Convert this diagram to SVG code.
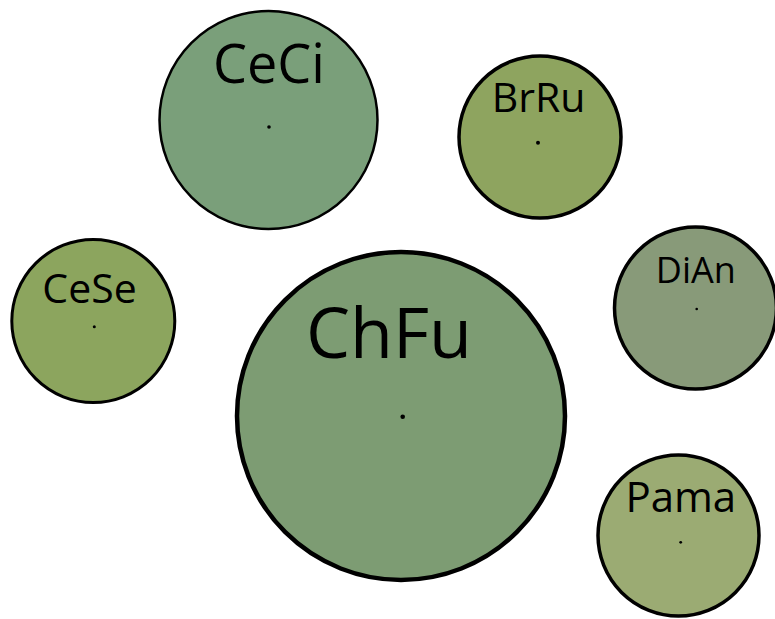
<svg xmlns="http://www.w3.org/2000/svg" width="775" height="619" viewBox="0 0 775 619">
<style>
.n{stroke:#000}
.lbl{font-family:"Open Sans","DejaVu Sans",sans-serif;fill:#000;text-anchor:middle}
.dot{fill:#000}
</style>
<rect width="775" height="619" fill="#fff"/>
<g id="connectors"></g>
<g id="CeCi">
<circle class="n" cx="268.5" cy="120" r="109" fill="#7a9f7a" stroke-width="2.5"/>
<text class="lbl" x="269" y="82.5" font-size="54">CeCi</text>
<circle class="dot" cx="269" cy="127" r="1.8"/>
</g>
<g id="BrRu">
<circle class="n" cx="540" cy="137" r="81" fill="#8ea45f" stroke-width="3.5"/>
<text class="lbl" x="538.5" y="112" font-size="41">BrRu</text>
<circle class="dot" cx="538" cy="142.7" r="2"/>
</g>
<g id="CeSe">
<circle class="n" cx="93.3" cy="321" r="81.5" fill="#8ca55e" stroke-width="3"/>
<text class="lbl" x="89.5" y="302.5" font-size="41">CeSe</text>
<circle class="dot" cx="94.3" cy="326.7" r="1.5"/>
</g>
<g id="DiAn">
<circle class="n" cx="695.5" cy="308" r="81" fill="#889a79" stroke-width="3.5"/>
<text class="lbl" x="695.8" y="283.3" font-size="36">DiAn</text>
<circle class="dot" cx="696.7" cy="309" r="1.3"/>
</g>
<g id="ChFu">
<circle class="n" cx="401" cy="416" r="164" fill="#7d9c73" stroke-width="4.5"/>
<text class="lbl" x="389" y="358.3" font-size="70">ChFu</text>
<circle class="dot" cx="402.7" cy="416.7" r="2.3"/>
</g>
<g id="Pama">
<circle class="n" cx="678.5" cy="535.5" r="80.5" fill="#9bab73" stroke-width="3.5"/>
<text class="lbl" x="680.8" y="511.7" font-size="42">Pama</text>
<circle class="dot" cx="680.7" cy="542.3" r="1.4"/>
</g>
</svg>
